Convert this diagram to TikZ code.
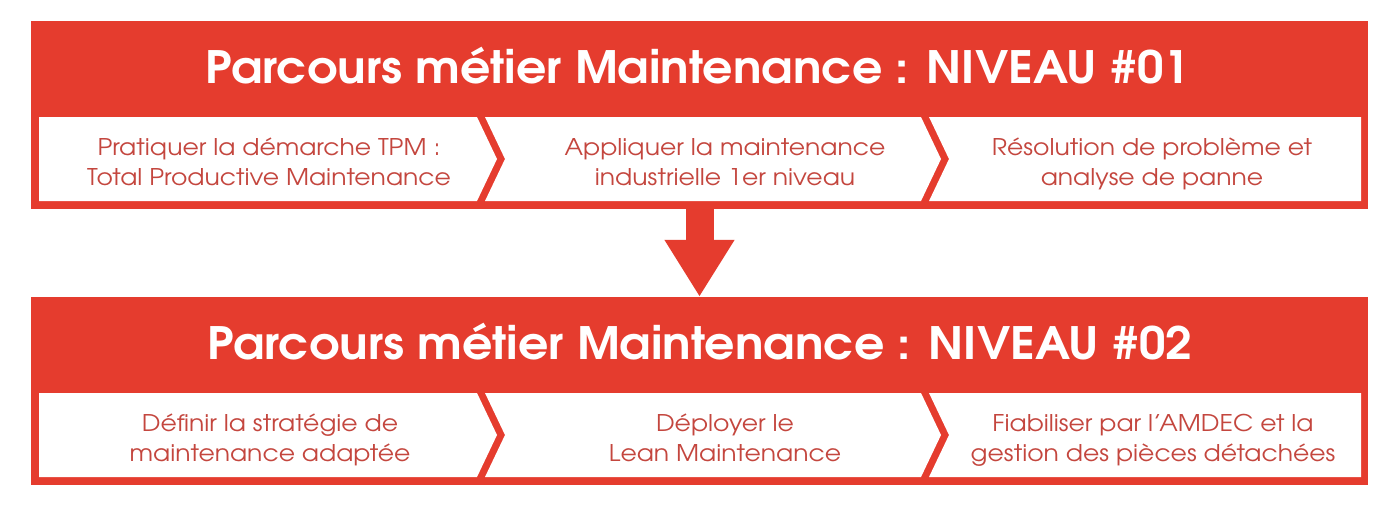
\documentclass[tikz,border=0pt]{standalone}
\usepackage{fontspec}
\setmainfont{texgyreadventor}[Extension=.otf, UprightFont=*-regular, BoldFont=*-bold]
\newfontfamily\titlefont{texgyreadventor}[Extension=.otf, UprightFont=*-bold, FakeStretch=1.065]
\newfontfamily\itemfont{texgyreadventor}[Extension=.otf, UprightFont=*-regular, FakeStretch=1.09]
\usetikzlibrary{arrows.meta}
\definecolor{banred}{HTML}{E53C2E}
\definecolor{txtred}{HTML}{C4463E}
\begin{document}
\begin{tikzpicture}[x=1pt,y=-1pt,
  banner/.style={fill=banred, draw=none, inner sep=0, minimum width=1337pt, minimum height=188pt},
  cellbox/.style={fill=white},
  title/.style={anchor=base, text=white, inner sep=0, font=\titlefont\fontsize{44.6}{50}\selectfont},
  item/.style={anchor=base, text=txtred, inner sep=0, font=\itemfont\fontsize{23}{28}\selectfont},
  flow/.style={banred, line width=28pt, line cap=butt, -{Triangle[width=66pt,length=57pt]}}]
\useasboundingbox (0,0) rectangle (1400,506);
\fill[white] (0,0) rectangle (1400,506);

% banners
\node[banner] (b1) at (699.5,115) {};
\node[banner] (b2) at (699.5,391) {};

% white cells, banner 1
\fill[cellbox] (39,117) -- (477,117) -- (497,159) -- (477,201) -- (39,201) -- cycle;
\fill[cellbox] (485,117) -- (921,117) -- (941,159) -- (921,201) -- (485,201) -- (505,159) -- cycle;
\fill[cellbox] (929,117) -- (1361,117) -- (1361,201) -- (929,201) -- (949,159) -- cycle;
% white cells, banner 2
\fill[cellbox] (39,393) -- (477,393) -- (497,435) -- (477,477) -- (39,477) -- cycle;
\fill[cellbox] (485,393) -- (921,393) -- (941,435) -- (921,477) -- (485,477) -- (505,435) -- cycle;
\fill[cellbox] (929,393) -- (1361,393) -- (1361,477) -- (929,477) -- (949,435) -- cycle;

% titles
\node[title] (t1) at (698,83) {Parcours métier Maintenance : NIVEAU \#01};
\node[title] (t2) at (700,359) {Parcours métier Maintenance : NIVEAU \#02};

% items, banner 1
\node[item] (a1) at (269,155) {Pratiquer la démarche TPM :};
\node[item] (a2) at (269,185) {Total Productive Maintenance};
\node[item] (b1a) at (725,155) {Appliquer la maintenance};
\node[item] (b1b) at (725,185) {industrielle 1er niveau};
\node[item] (c1a) at (1152,155) {Résolution de problème et};
\node[item] (c1b) at (1152,185) {analyse de panne};

% items, banner 2
\node[item] (a3) at (270,431) {Définir la stratégie de};
\node[item] (a4) at (270,461) {maintenance adaptée};
\node[item] (b2a) at (725,431) {Déployer le};
\node[item] (b2b) at (725,461) {Lean Maintenance};
\node[item] (c2a) at (1153,431) {Fiabiliser par l’AMDEC et la};
\node[item] (c2b) at (1153,461) {gestion des pièces détachées};

% arrow between levels
\draw[flow] (b1.south) -- (b2.north);
\end{tikzpicture}
\end{document}
